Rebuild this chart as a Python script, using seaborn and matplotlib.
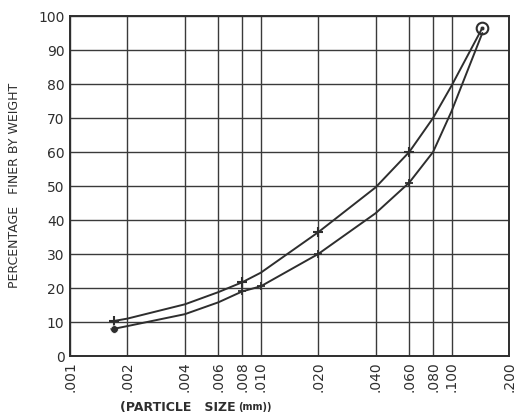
import matplotlib
matplotlib.use("Agg")
import matplotlib.pyplot as plt
import seaborn as sns
import pandas as pd

# Data
x_ticks = [0.001, 0.002, 0.004, 0.006, 0.008, 0.010, 0.020, 0.040, 0.060, 0.080, 0.100, 0.200]
x_tick_labels = [".001", ".002", ".004", ".006", ".008", ".010", ".020", ".040", ".060", ".080", ".100", ".200"]
y_ticks = [0, 10, 20, 30, 40, 50, 60, 70, 80, 90, 100]

upper_size = [0.0017, 0.002, 0.004, 0.006, 0.008, 0.010, 0.020, 0.040, 0.060, 0.080, 0.100, 0.145]
upper_pct = [10.3, 11.0, 15.2, 18.8, 21.7, 24.5, 36.4, 49.6, 60.0, 70.0, 79.5, 96.5]
lower_size = [0.0017, 0.002, 0.004, 0.006, 0.008, 0.010, 0.020, 0.040, 0.060, 0.080, 0.100, 0.145]
lower_pct = [8.0, 8.8, 12.3, 15.8, 19.0, 20.5, 30.0, 42.0, 51.0, 60.0, 72.0, 95.0]

upper_mark_size = [0.0017, 0.008, 0.020, 0.060]
upper_mark_pct = [10.3, 21.7, 36.4, 60.0]
lower_mark_size = [0.0017, 0.008, 0.010, 0.020, 0.060]
lower_mark_pct = [8.0, 19.0, 20.5, 30.0, 51.0]
end_size = [0.145]
end_pct = [96.5]

sns.set_style("white")
plt.rcParams['font.family'] = ['DejaVu Sans']

ink = "#2e2e2e"
fig = plt.figure(figsize=(5.17, 4.19), dpi=100)
ax = fig.add_axes([70 / 517, 1 - 356 / 419, (509 - 70) / 517, (356 - 16) / 419])

df_u = pd.DataFrame({"size": upper_size, "pct": upper_pct})
df_l = pd.DataFrame({"size": lower_size, "pct": lower_pct})
sns.lineplot(data=df_u, x="size", y="pct", ax=ax, color=ink, lw=1.4, sort=True)
sns.lineplot(data=df_l, x="size", y="pct", ax=ax, color=ink, lw=1.4, sort=True)
sns.scatterplot(x=upper_mark_size, y=upper_mark_pct, ax=ax, marker="+", s=60, color=ink, linewidth=1.5)
sns.scatterplot(x=lower_mark_size, y=lower_mark_pct, ax=ax, marker="+", s=40, color=ink, linewidth=1.3)
sns.scatterplot(x=[lower_mark_size[0]], y=[lower_mark_pct[0]], ax=ax, marker="o", s=30, color=ink)
sns.scatterplot(x=end_size, y=end_pct, ax=ax, marker="o", s=70, facecolor="white", edgecolor=ink, linewidth=1.5)
sns.scatterplot(x=end_size, y=end_pct, ax=ax, marker="o", s=10, color=ink)

ax.set_xscale("log")
ax.set_xlim(0.001, 0.2)
ax.set_ylim(0, 100)
ax.set_xticks(x_ticks)
ax.set_xticklabels(x_tick_labels, rotation=90, fontsize=10, color=ink)
ax.minorticks_off()
ax.set_yticks(y_ticks)
ax.set_yticklabels([str(v) for v in y_ticks], fontsize=10, color=ink)
ax.tick_params(axis="both", length=0, pad=4)
ax.grid(True, color="#3a3a3a", lw=1.0)
ax.set_xlabel("")
ax.set_ylabel("")
for s in ax.spines.values():
    s.set_color(ink)
    s.set_linewidth(1.4)

fig.text(15 / 517, 1 - 185 / 419, "PERCENTAGE   FINER BY WEIGHT", rotation=90,
         ha="center", va="center", fontsize=9, color=ink)
fig.text(120 / 517, 1 - 407 / 419, "(PARTICLE   SIZE", ha="left", va="center",
         fontsize=9, color=ink, fontweight="bold")
fig.text(238 / 517, 1 - 407 / 419, "(mm))", ha="left", va="center",
         fontsize=7, color=ink, fontweight="bold")

fig.savefig("out.png", dpi=100)
